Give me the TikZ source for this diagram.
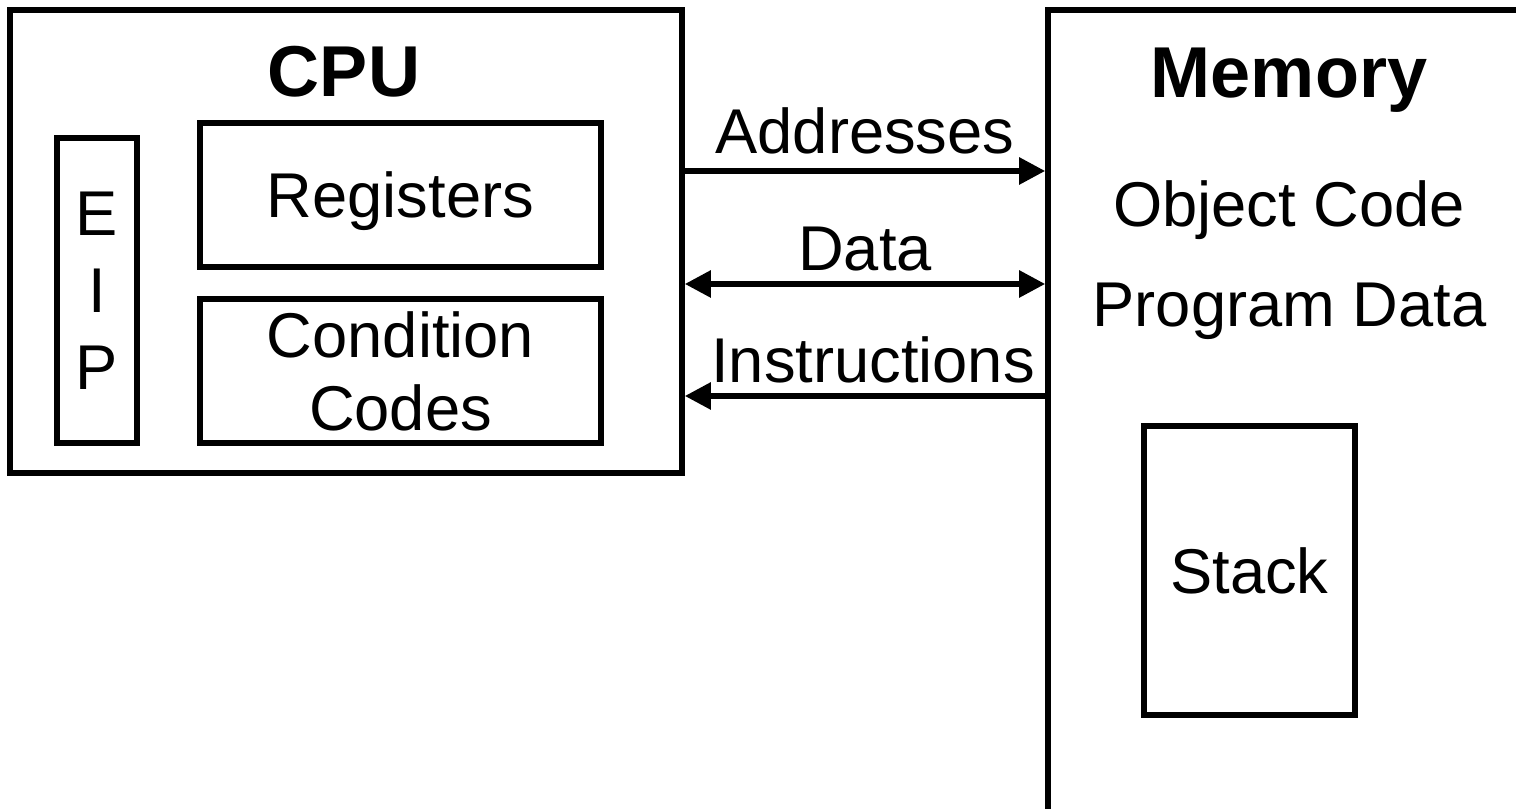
\documentclass[tikz,border=0pt]{standalone}
\usepackage{fontspec}
\setmainfont{Liberation Sans}
\usetikzlibrary{positioning,arrows.meta}

\begin{document}
\begin{tikzpicture}[
  box/.style={draw, line width=1.6pt, inner sep=0pt},
  bus/.style={line width=1.6pt},
  txt/.style={font=\fontsize{18}{21.5}\selectfont},
  title/.style={font=\fontsize{20.5}{24}\selectfont\bfseries},
  buslabel/.style={txt, above, inner sep=1mm},
  >={Triangle[length=2.6mm,width=2.6mm]}
]
  \clip (0,0) rectangle (15.16,8.09);

  % CPU side
  \node[box, minimum width=6.72cm, minimum height=4.63cm] (cpu) at (3.46,5.675) {};
  \node[title, anchor=base] (cpulabel) at (3.44,7.12) {CPU};
  \node[box, minimum width=0.80cm, minimum height=3.05cm, align=center,
        font=\fontsize{18}{21.9}\selectfont] (eip) at (0.97,5.185) {E\\I\\P};
  \node[box, txt, text depth=0pt, minimum width=4.01cm, minimum height=1.44cm] (regs) at (4.005,6.14) {Registers};
  \node[box, minimum width=4.01cm, minimum height=1.44cm, align=center,
        font=\fontsize{18}{20.8}\selectfont] (codes) at (4.005,4.38) {Condition\\Codes};

  % Memory side
  \node[box, minimum width=5cm, minimum height=8.3cm] (mem) at (12.98,3.84) {};
  \node[title, anchor=base] (memlabel) at (12.89,7.11) {Memory};
  \node[txt, anchor=base] (objcode) at (12.89,5.82) {Object Code};
  \node[txt, anchor=base] (progdata) at (12.895,4.82) {Program Data};
  \node[box, txt, minimum width=2.11cm, minimum height=2.89cm] (stack) at (12.495,2.385) {Stack};

  % buses
  \coordinate (addr) at ([yshift=7.05mm]cpu.east);
  \coordinate (data) at ([yshift=-4.25mm]cpu.east);
  \coordinate (instr) at ([yshift=-15.45mm]cpu.east);
  \path[bus, ->] (addr) edge node[buslabel, yshift=0.4mm] {Addresses} (addr -| mem.west);
  \path[bus, <->] (data) edge node[buslabel] {Data} (data -| mem.west);
  \path[bus, <-] (instr) edge node[buslabel, xshift=0.8mm] {Instructions} (instr -| mem.west);

\end{tikzpicture}
\end{document}
